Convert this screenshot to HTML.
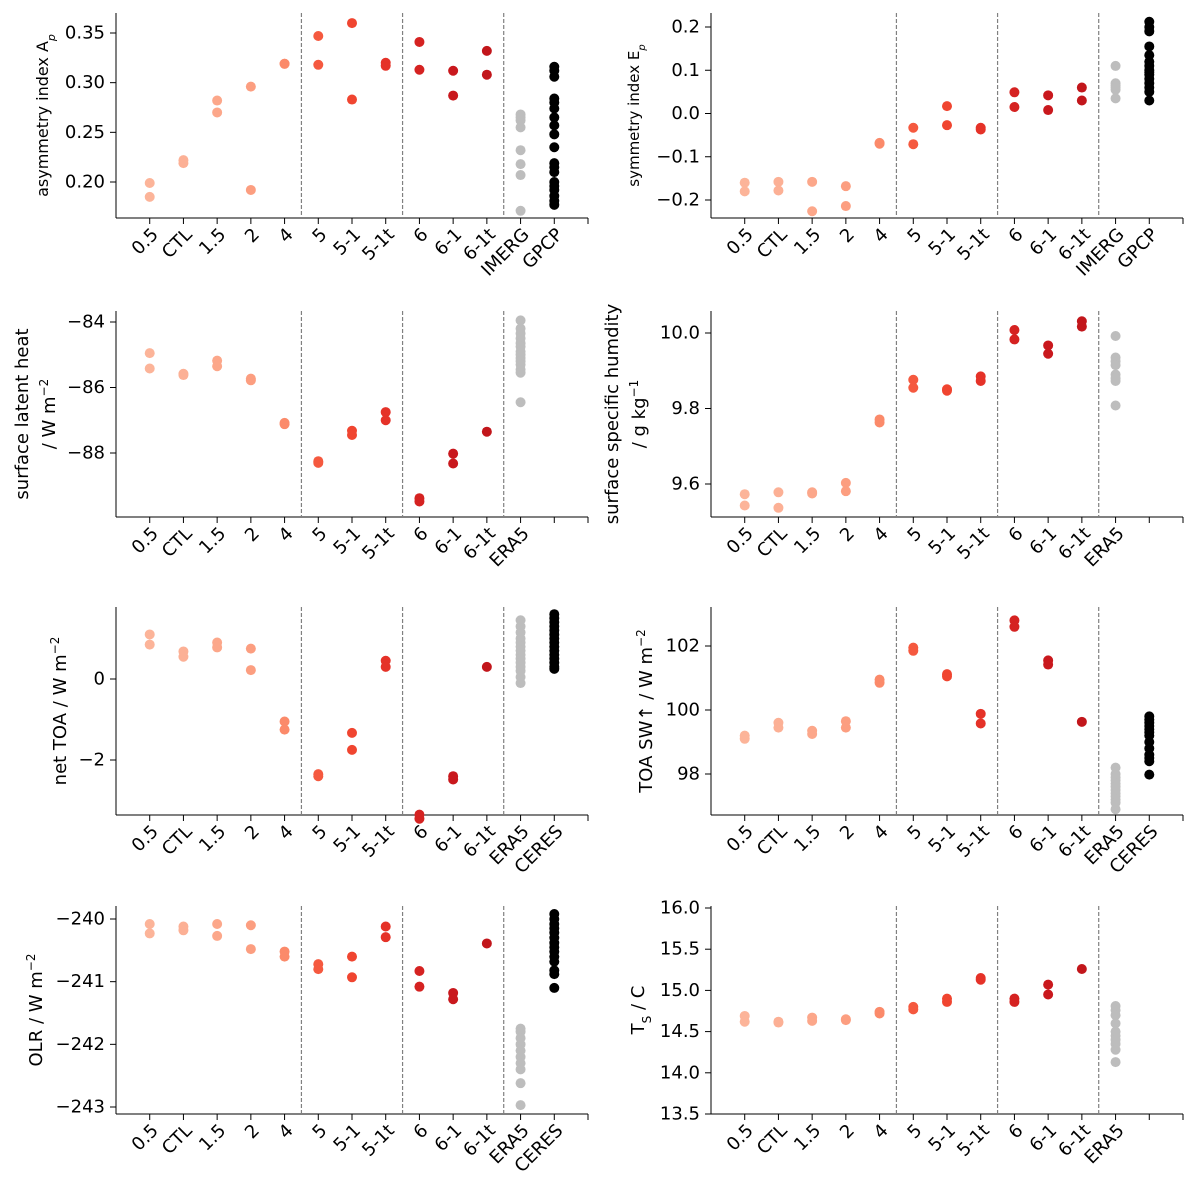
<!DOCTYPE html>
<html><head><meta charset="utf-8"><style>
body{margin:0;background:#fff;}
svg{display:block;font-family:"DejaVu Sans","Liberation Sans",sans-serif;}
</style></head><body>
<svg id="fig" width="1197" height="1192"></svg>
<script>
const categories=["0.5","CTL","1.5","2","4","5","5-1","5-1t","6","6-1","6-1t"];
const catColors=["#fcb499","#fcb095","#fca78a","#fc9e80","#fb8a6a","#f5593f","#f04530","#e53228","#d52221","#c9181d","#c2161b"];
const obsLabelsA=["IMERG","GPCP"];
const obsLabelsB=["ERA5",""];
const obsLabelsC=["ERA5","CERES"];

const asymModel=[[0.199,0.185],[0.222,0.219],[0.282,0.270],[0.296,0.192],[0.319,0.319],[0.347,0.318],[0.360,0.283],[0.320,0.317],[0.341,0.313],[0.312,0.287],[0.332,0.308]];
const asymObs1=[0.268,0.265,0.262,0.255,0.232,0.218,0.207,0.171];
const asymObs2=[0.316,0.312,0.306,0.284,0.280,0.274,0.265,0.257,0.248,0.235,0.219,0.215,0.210,0.200,0.196,0.192,0.186,0.181,0.177];

const symModel=[[-0.160,-0.180],[-0.158,-0.178],[-0.158,-0.226],[-0.168,-0.214],[-0.068,-0.070],[-0.033,-0.071],[0.017,-0.027],[-0.033,-0.037],[0.049,0.015],[0.042,0.008],[0.060,0.030]];
const symObs1=[0.110,0.070,0.065,0.060,0.055,0.035];
const symObs2=[0.212,0.200,0.190,0.155,0.135,0.120,0.110,0.100,0.095,0.090,0.080,0.070,0.060,0.050,0.030];

const lhModel=[[-84.95,-85.42],[-85.58,-85.62],[-85.18,-85.35],[-85.73,-85.78],[-87.08,-87.12],[-88.25,-88.30],[-87.32,-87.45],[-86.75,-87.0],[-89.38,-89.48],[-88.02,-88.32],[-87.35]];
const lhObs1=[-83.95,-84.2,-84.35,-84.5,-84.65,-84.75,-84.9,-85.0,-85.1,-85.2,-85.3,-85.45,-85.55,-86.45];

const qModel=[[9.573,9.543],[9.578,9.537],[9.578,9.575],[9.603,9.581],[9.771,9.763],[9.876,9.855],[9.851,9.847],[9.885,9.873],[10.008,9.983],[9.967,9.945],[10.031,10.017]];
const qObs1=[9.992,9.935,9.925,9.915,9.89,9.88,9.873,9.808];

const toaModel=[[1.1,0.85],[0.68,0.55],[0.9,0.78],[0.75,0.22],[-1.05,-1.25],[-2.35,-2.4],[-1.33,-1.75],[0.45,0.30],[-3.35,-3.45],[-2.4,-2.48],[0.30]];
const toaObs1=[1.45,1.3,1.15,1.0,0.9,0.8,0.7,0.6,0.5,0.4,0.3,0.2,0.05,-0.1];
const toaObs2=[1.6,1.5,1.4,1.3,1.2,1.1,1.0,0.9,0.8,0.7,0.6,0.5,0.4,0.3,0.25];

const swModel=[[99.2,99.1],[99.6,99.45],[99.35,99.25],[99.65,99.45],[100.95,100.85],[101.95,101.85],[101.12,101.05],[99.88,99.58],[102.8,102.6],[101.55,101.42],[99.63]];
const swObs1=[98.2,98.0,97.9,97.8,97.7,97.6,97.5,97.4,97.3,97.2,97.1,96.9];
const swObs2=[99.8,99.7,99.6,99.5,99.4,99.3,99.2,99.0,98.8,98.6,98.5,98.4,97.98];

const olrModel=[[-240.08,-240.23],[-240.12,-240.18],[-240.08,-240.27],[-240.1,-240.48],[-240.52,-240.6],[-240.72,-240.8],[-240.6,-240.93],[-240.12,-240.29],[-240.83,-241.08],[-241.18,-241.28],[-240.39]];
const olrObs1=[-241.75,-241.8,-241.9,-242.0,-242.1,-242.2,-242.3,-242.4,-242.62,-242.97];
const olrObs2=[-239.92,-240.0,-240.08,-240.15,-240.22,-240.3,-240.38,-240.45,-240.52,-240.6,-240.68,-240.82,-240.88,-241.1];

const tsModel=[[14.69,14.62],[14.62,14.61],[14.67,14.63],[14.65,14.64],[14.74,14.72],[14.8,14.77],[14.9,14.86],[15.15,15.13],[14.9,14.86],[15.07,14.95],[15.26]];
const tsObs1=[14.81,14.76,14.7,14.6,14.5,14.45,14.4,14.35,14.28,14.13];

const ticksA=[0.20,0.25,0.30,0.35], ticksAL=["0.20","0.25","0.30","0.35"];
const ticksB=[-0.2,-0.1,0.0,0.1,0.2], ticksBL=["−0.2","−0.1","0.0","0.1","0.2"];
const ticksC=[-88,-86,-84], ticksCL=["−88","−86","−84"];
const ticksD=[9.6,9.8,10.0], ticksDL=["9.6","9.8","10.0"];
const ticksE=[-2,0], ticksEL=["−2","0"];
const ticksF=[98,100,102], ticksFL=["98","100","102"];
const ticksG=[-243,-242,-241,-240], ticksGL=["−243","−242","−241","−240"];
const ticksH=[13.5,14.0,14.5,15.0,15.5,16.0], ticksHL=["13.5","14.0","14.5","15.0","15.5","16.0"];

const NS="http://www.w3.org/2000/svg";
const svg=document.getElementById("fig");
function mk(tag,attrs,parent){const e=document.createElementNS(NS,tag);for(const k in attrs)e.setAttribute(k,attrs[k]);(parent||svg).appendChild(e);return e;}

function panel(p){
  const g=mk("g",{});
  
  
  const sx=i=>p.x0+(i+1)*(p.x1-p.x0)/14;
  const k=(p.py2-p.py1)/(p.v2-p.v1);
  const sy=v=>p.py1+(v-p.v1)*k;
  const sp1=mk("line",{x1:p.x0,y1:p.y0,x2:p.x0,y2:p.y1,stroke:"#000","stroke-width":1},g);
  
  
  const sp2=mk("line",{x1:p.x0,y1:p.y1,x2:p.x1,y2:p.y1,stroke:"#000","stroke-width":1},g);
  
  
  [4.5,7.5,10.5].forEach(d=>{
    const l=mk("line",{x1:sx(d),y1:p.y0,x2:sx(d),y2:p.y1,stroke:"#808080","stroke-width":1.2,"stroke-dasharray":"4,2"},g);
    
    
  });
  const labels=categories.concat(p.obsLabels);
  for(let i=0;i<14;i++){
    mk("line",{x1:sx(i),y1:p.y1,x2:sx(i),y2:p.y1+6,stroke:"#000"},g);
    if(labels[i]){
      const t=mk("text",{transform:`translate(${sx(i)+6},${p.y1+14}) rotate(-45)`,"text-anchor":"end","dominant-baseline":"middle","font-size":18,fill:"#000"},g);
      t.textContent=labels[i];
      
      
    }
  }
  p.ticks.forEach((v,j)=>{
    const y=sy(v);
    mk("line",{x1:p.x0-6,y1:y,x2:p.x0,y2:y,stroke:"#000"},g);
    const t=mk("text",{x:p.x0-11,y:y,"text-anchor":"end","dominant-baseline":"central","font-size":18,fill:"#000"},g);
    t.textContent=p.tickLabels[j];
    
    
  });
  const yl=mk("text",{transform:`translate(${p.lx},${(p.y0+p.y1)/2}) rotate(-90)`,"text-anchor":"middle","font-size":p.lfs,fill:"#000"},g);
  
  
  p.ylabel.forEach((ln,j)=>{
    const ts=mk("tspan",{x:0,dy:j?p.lfs*1.5:0},yl);
    ts.innerHTML=ln;
  });
  p.model.forEach((vals,i)=>{
    vals.forEach(v=>{
      const c=mk("circle",{cx:sx(i),cy:sy(v),r:5,fill:catColors[i]},g);
      
      
    });
  });
  [[p.obs1,"#bdbdbd",11],[p.obs2,"#000",12]].forEach(([arr,col,idx])=>{
    if(!arr)return;
    arr.forEach(v=>{
      const c=mk("circle",{cx:sx(idx),cy:sy(v),r:5,fill:col},g);
      
      
    });
  });
}
const L={x0:116,x1:588}, R={x0:711,x1:1183};
panel({name:"panel-asymmetry",...L,y0:13,y1:218,v1:0.35,py1:33,v2:0.20,py2:182,ticks:ticksA,tickLabels:ticksAL,obsLabels:obsLabelsA,model:asymModel,obs1:asymObs1,obs2:asymObs2,lx:48,lfs:16,ylabel:["asymmetry index A<tspan baseline-shift='sub' font-size='11' font-style='italic'>p</tspan>"]});
panel({name:"panel-symmetry",...R,y0:13,y1:218,v1:0.2,py1:27,v2:-0.2,py2:200,ticks:ticksB,tickLabels:ticksBL,obsLabels:obsLabelsA,model:symModel,obs1:symObs1,obs2:symObs2,lx:639,lfs:15,ylabel:["symmetry index E<tspan baseline-shift='sub' font-size='10' font-style='italic'>p</tspan>"]});
panel({name:"panel-latent-heat",...L,y0:311,y1:517,v1:-84,py1:322,v2:-88,py2:453,ticks:ticksC,tickLabels:ticksCL,obsLabels:obsLabelsB,model:lhModel,obs1:lhObs1,lx:28,lfs:18,ylabel:["surface latent heat","/ W m<tspan baseline-shift='super' font-size='12'>−2</tspan>"]});
panel({name:"panel-humidity",...R,y0:311,y1:517,v1:10.0,py1:333,v2:9.6,py2:484,ticks:ticksD,tickLabels:ticksDL,obsLabels:obsLabelsB,model:qModel,obs1:qObs1,lx:618,lfs:18,ylabel:["surface specific humdity","/ g kg<tspan baseline-shift='super' font-size='12'>−1</tspan>"]});
panel({name:"panel-net-toa",...L,y0:607,y1:815,v1:0,py1:679,v2:-2,py2:760,ticks:ticksE,tickLabels:ticksEL,obsLabels:obsLabelsC,model:toaModel,obs1:toaObs1,obs2:toaObs2,lx:66,lfs:18,ylabel:["net TOA / W m<tspan baseline-shift='super' font-size='12'>−2</tspan>"]});
panel({name:"panel-toa-sw",...R,y0:607,y1:815,v1:102,py1:646,v2:98,py2:774,ticks:ticksF,tickLabels:ticksFL,obsLabels:obsLabelsC,model:swModel,obs1:swObs1,obs2:swObs2,lx:652,lfs:18,ylabel:["TOA SW↑ / W m<tspan baseline-shift='super' font-size='12'>−2</tspan>"]});
panel({name:"panel-olr",...L,y0:906,y1:1114,v1:-240,py1:919,v2:-243,py2:1107,ticks:ticksG,tickLabels:ticksGL,obsLabels:obsLabelsC,model:olrModel,obs1:olrObs1,obs2:olrObs2,lx:42,lfs:18,ylabel:["OLR / W m<tspan baseline-shift='super' font-size='12'>−2</tspan>"]});
panel({name:"panel-surface-temp",...R,y0:906,y1:1114,v1:16.0,py1:908,v2:13.5,py2:1114,ticks:ticksH,tickLabels:ticksHL,obsLabels:obsLabelsB,model:tsModel,obs1:tsObs1,lx:644,lfs:18,ylabel:["T<tspan baseline-shift='sub' font-size='12'>S</tspan> / C"]});
</script>
</body></html>
